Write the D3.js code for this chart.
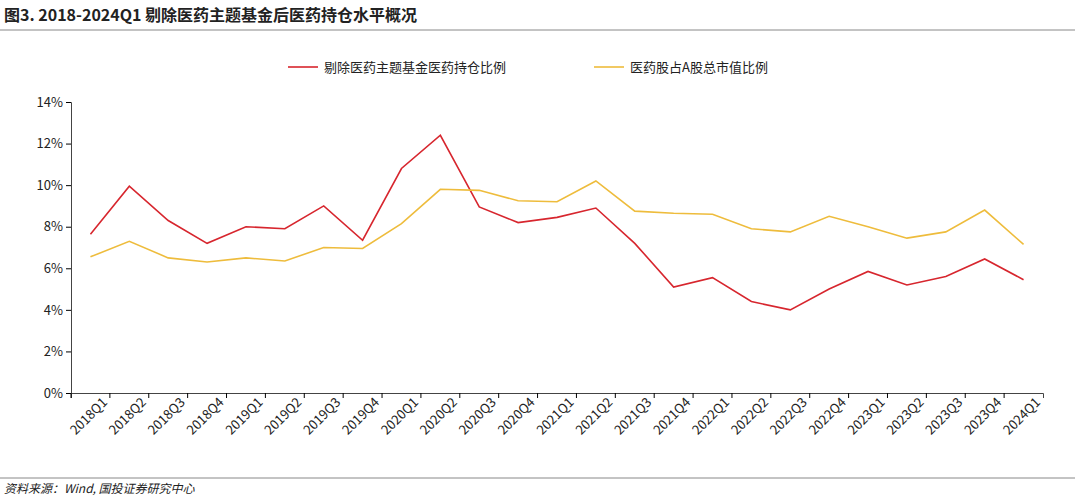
<!DOCTYPE html>
<html lang="zh">
<head>
<meta charset="UTF-8">
<script src="https://cdn.jsdelivr.net/npm/d3@7"></script>
<style>
  body { margin: 0; background: #fff; }
  text { font-family: "Noto Sans CJK SC", "Noto Sans", sans-serif; fill: #222; }
</style>
</head>
<body>
<script>
var quarters = ["2018Q1","2018Q2","2018Q3","2018Q4","2019Q1","2019Q2","2019Q3","2019Q4",
  "2020Q1","2020Q2","2020Q3","2020Q4","2021Q1","2021Q2","2021Q3","2021Q4",
  "2022Q1","2022Q2","2022Q3","2022Q4","2023Q1","2023Q2","2023Q3","2023Q4","2024Q1"];
var exFundRatio = [7.64,9.95,8.3,7.2,8.0,7.9,9.0,7.35,10.8,12.4,8.95,8.2,8.45,8.9,7.2,5.1,
  5.55,4.4,4.0,5.0,5.85,5.2,5.6,6.45,5.45];
var marketRatio = [6.55,7.3,6.5,6.3,6.5,6.35,7.0,6.95,8.15,9.8,9.75,9.25,9.2,10.2,8.75,8.65,
  8.6,7.9,7.75,8.5,8.0,7.45,7.75,8.8,7.15];
var yTicks = [0,2,4,6,8,10,12,14];
var seriesNames = ["剔除医药主题基金医药持仓比例", "医药股占A股总市值比例"];
var colors = ["#d7262e", "#eebc3c"];

var W = 1080, H = 501;
var svg = d3.select("body").append("svg").attr("width", W).attr("height", H);

// title and rules
svg.append("text").attr("x", 4).attr("y", 21).style("font-size", "16px").style("font-weight", "bold")
  .text("图3. 2018-2024Q1 剔除医药主题基金后医药持仓水平概况");
svg.append("line").attr("x1", 0).attr("x2", 1075).attr("y1", 30).attr("y2", 30).style("stroke", "#888");
svg.append("line").attr("x1", 0).attr("x2", 1075).attr("y1", 478).attr("y2", 478).style("stroke", "#888");
svg.append("text").attr("x", 4).attr("y", 493).style("font-size", "12px").style("font-style", "italic")
  .text("资料来源：Wind, 国投证券研究中心");

var pLeft = 71, pRight = 1043, pTop = 102, pBottom = 393;
var x = d3.scaleBand().domain(quarters).range([pLeft, pRight]);
var y = d3.scaleLinear().domain([0, 14]).range([pBottom, pTop]);

var yAxis = svg.append("g").attr("transform", "translate(" + pLeft + ",0)")
  .call(d3.axisLeft(y).tickValues(yTicks).tickFormat(function (d) { return d + "%"; }).tickSize(5));
yAxis.selectAll("text").style("font-size", "13px").attr("x", -8);
yAxis.select(".domain").style("stroke", "#444");

var xAxis = svg.append("g").attr("transform", "translate(0," + pBottom + ")")
  .call(d3.axisBottom(x).tickSize(5));
xAxis.select(".domain").style("stroke", "#444");
xAxis.selectAll("line").attr("transform", "translate(" + (-x.bandwidth() / 2) + ",0)");
xAxis.selectAll("text").style("font-size", "13px")
  .attr("text-anchor", "end").attr("dx", "0.4em").attr("dy", "0.9em")
  .attr("transform", "rotate(-45)");

[exFundRatio, marketRatio].forEach(function (vals, i) {
  var line = d3.line()
    .x(function (d, j) { return x(quarters[j]) + x.bandwidth() / 2; })
    .y(function (d) { return y(d); });
  svg.append("path").datum(vals).attr("d", line)
    .style("fill", "none").style("stroke", colors[i]).style("stroke-width", "1.6px");
});

// legend
var legX = [288, 594];
seriesNames.forEach(function (n, i) {
  svg.append("line").attr("x1", legX[i]).attr("x2", legX[i] + 30).attr("y1", 67).attr("y2", 67)
    .style("stroke", colors[i]).style("stroke-width", "1.6px");
  svg.append("text").attr("x", legX[i] + 36).attr("y", 72).style("font-size", "13px").text(n);
});
</script>
</body>
</html>
